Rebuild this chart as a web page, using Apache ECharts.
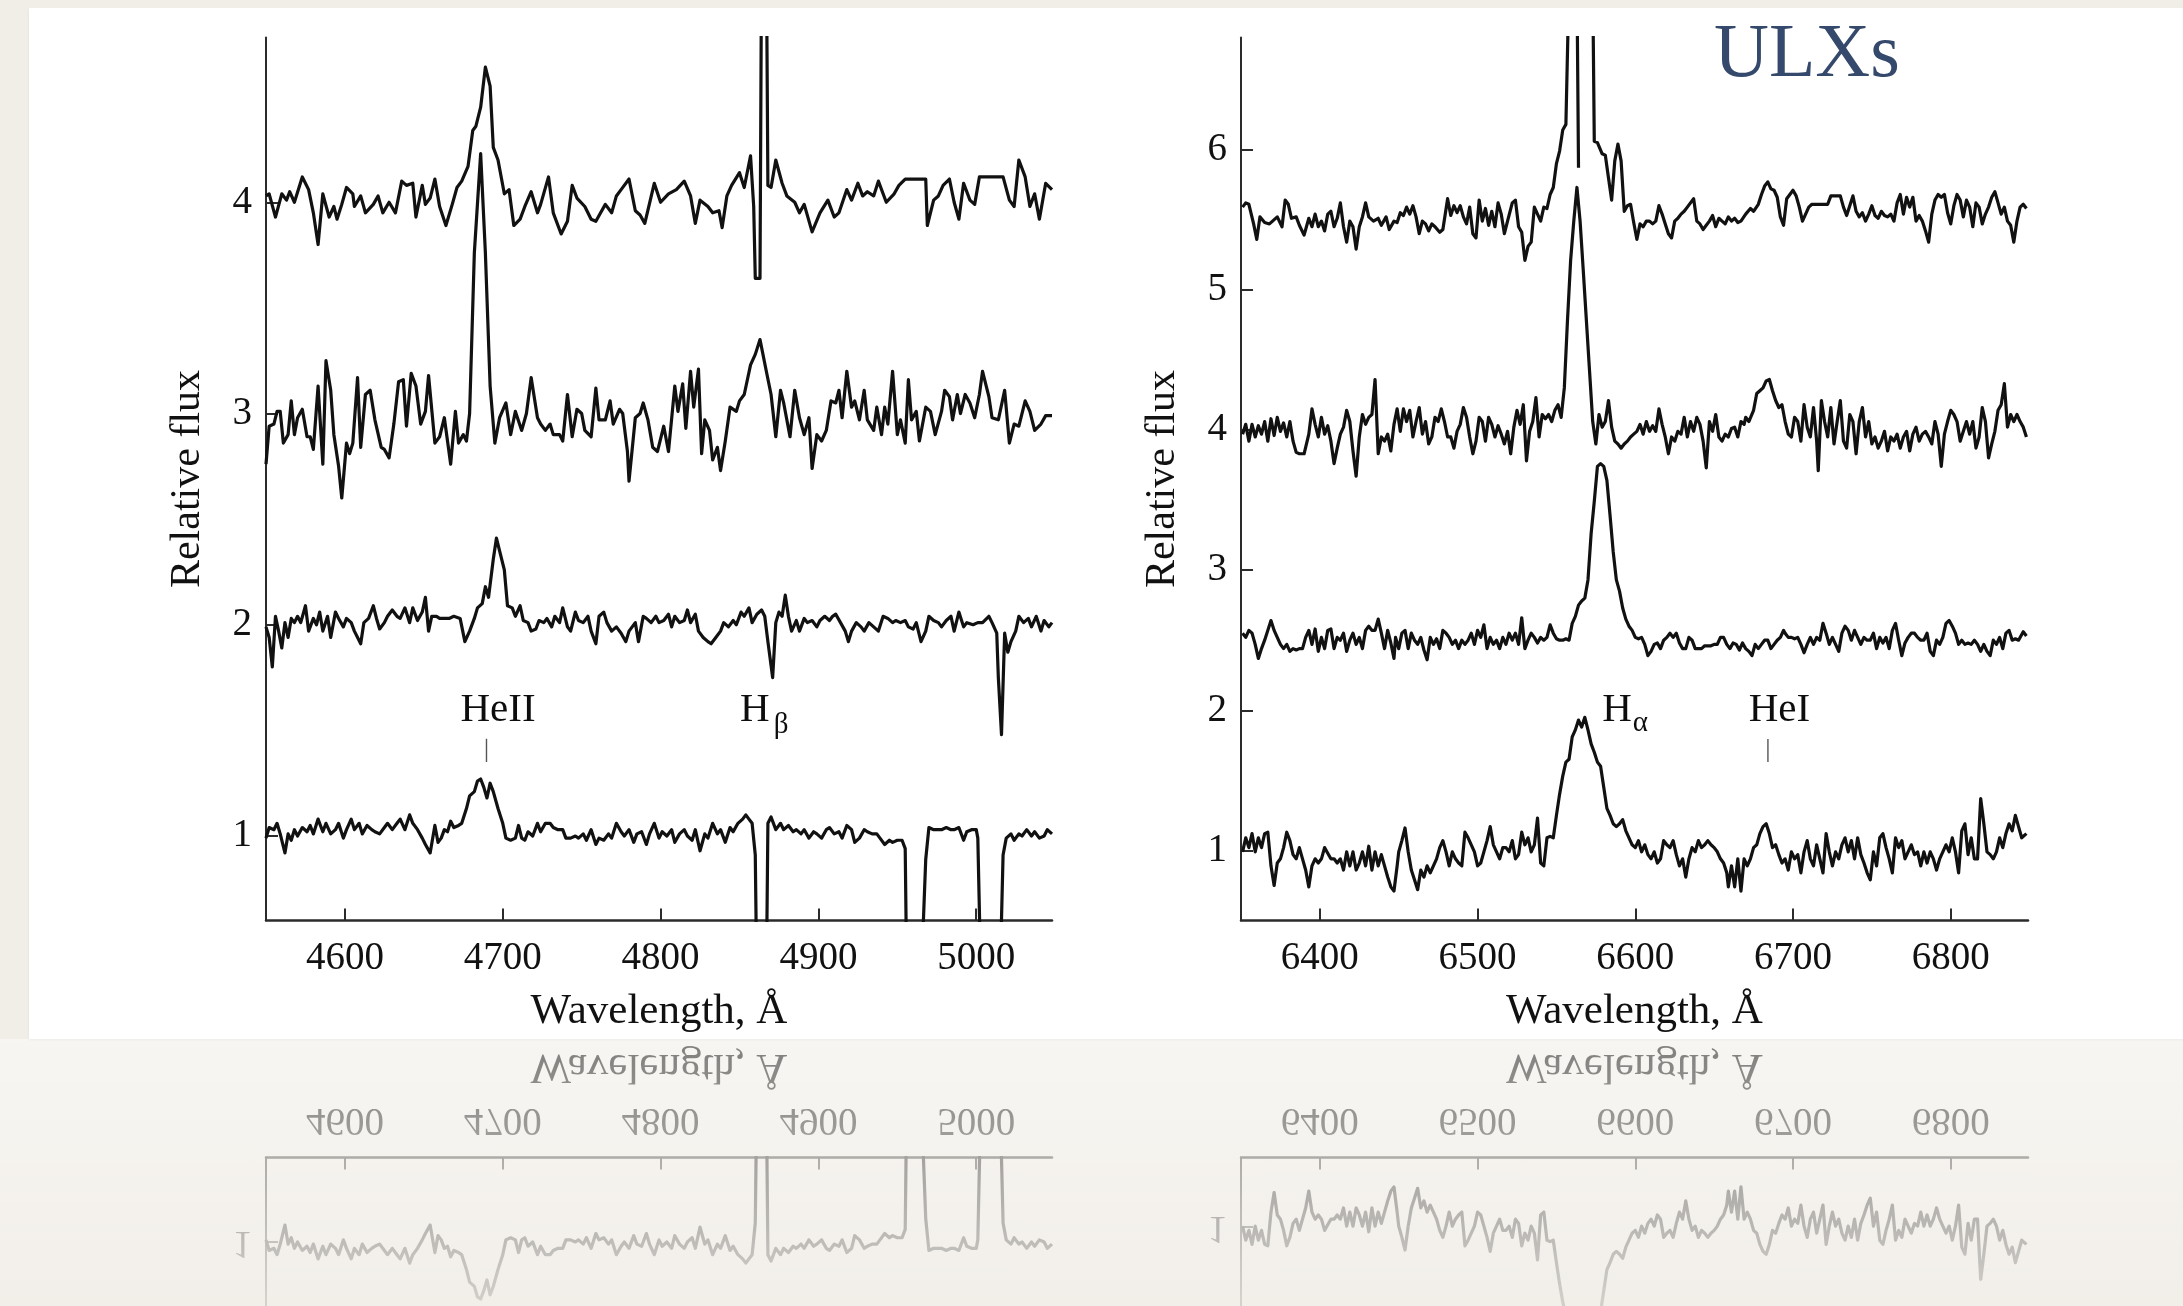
<!DOCTYPE html>
<html>
<head>
<meta charset="utf-8">
<script src="https://cdn.jsdelivr.net/npm/echarts@6/dist/echarts.min.js"></script>
<style>
html,body{margin:0;padding:0;width:2183px;height:1306px;overflow:hidden;background:#F1EEE8;}
#panel{position:absolute;left:29px;top:8px;width:2154px;height:1031px;background:#ffffff;box-shadow:0 1px 2px rgba(0,0,0,0.08);}
#reflBg{position:absolute;left:0;top:1039px;width:2183px;height:267px;background:linear-gradient(to bottom,rgba(255,255,255,0.45),rgba(255,255,255,0.05));}
#reflWrap{position:absolute;left:0;top:1039px;width:2183px;height:267px;overflow:hidden;
 -webkit-mask-image:linear-gradient(to bottom,rgba(0,0,0,0.52),rgba(0,0,0,0.14));
 mask-image:linear-gradient(to bottom,rgba(0,0,0,0.52),rgba(0,0,0,0.14));}
#refl{position:absolute;left:0;top:-1039px;width:2183px;height:1306px;transform:scaleY(-1);transform-origin:0 1039px;}
#main{position:absolute;left:0;top:0;width:2183px;height:1306px;}
</style>
</head>
<body>
<div id="panel"></div>
<div id="reflBg"></div>
<div id="reflWrap"><div id="refl"></div></div>
<div id="main"></div>
<script>
// ---------------- data ----------------
const leftXTicks = [4600, 4700, 4800, 4900, 5000];
const rightXTicks = [6400, 6500, 6600, 6700, 6800];
const leftYTicks = [1, 2, 3, 4];
const rightYTicks = [1, 2, 3, 4, 5, 6];

// left panel spectra [wavelength, relative flux]
const left1 = [[4550,0.99],[4552,1.04],[4555,1.03],[4557,1.06],[4559,1.01],[4562,0.92],[4564,1.01],[4566,0.98],[4568,1.03],[4570,1.00],[4573,1.04],[4576,1.02],[4578,1.05],[4580,1.01],[4583,1.08],[4586,1.02],[4588,1.06],[4591,1.01],[4594,1.03],[4596,1.06],[4599,0.99],[4601,1.03],[4604,1.08],[4606,1.03],[4609,1.06],[4611,1.01],[4614,1.05],[4617,1.03],[4619,1.02],[4622,1.01],[4625,1.04],[4627,1.06],[4630,1.03],[4633,1.06],[4635,1.08],[4638,1.03],[4641,1.10],[4643,1.06],[4646,1.03],[4649,0.99],[4651,0.96],[4654,0.92],[4657,1.05],[4659,0.97],[4661,0.99],[4663,1.03],[4665,1.02],[4667,1.07],[4669,1.04],[4672,1.05],[4674,1.06],[4677,1.13],[4679,1.19],[4682,1.21],[4684,1.26],[4686,1.27],[4688,1.23],[4690,1.18],[4692,1.25],[4694,1.21],[4697,1.13],[4700,1.06],[4702,0.99],[4705,0.98],[4708,0.99],[4710,1.05],[4712,0.99],[4714,0.98],[4716,1.02],[4719,1.00],[4722,1.06],[4724,1.02],[4727,1.06],[4730,1.06],[4732,1.04],[4735,1.03],[4738,1.03],[4740,0.99],[4743,0.99],[4746,1.00],[4748,0.99],[4751,1.01],[4753,0.98],[4756,1.03],[4759,0.96],[4761,0.99],[4764,0.98],[4767,1.01],[4769,0.99],[4772,1.06],[4775,1.02],[4777,1.00],[4780,1.03],[4783,0.97],[4785,1.01],[4788,1.02],[4791,0.96],[4793,1.01],[4796,1.06],[4799,0.99],[4801,1.02],[4804,1.00],[4807,1.03],[4809,0.97],[4812,1.01],[4815,1.03],[4817,1.00],[4820,0.98],[4822,1.03],[4825,0.93],[4828,1.01],[4830,0.99],[4833,1.06],[4836,1.01],[4838,1.03],[4841,0.97],[4844,1.04],[4846,1.02],[4849,1.06],[4852,1.08],[4854,1.10],[4856,1.08],[4858,1.06],[4860,0.91],[4861,0.3],[4867,0.3],[4868,1.06],[4870,1.09],[4873,1.03],[4876,1.06],[4878,1.03],[4881,1.05],[4884,1.02],[4886,1.03],[4889,1.01],[4891,1.03],[4894,0.99],[4897,1.02],[4899,1.01],[4902,0.99],[4905,1.03],[4907,1.04],[4910,1.01],[4913,1.02],[4915,0.99],[4918,1.05],[4921,1.03],[4923,0.97],[4926,0.99],[4929,1.03],[4931,1.02],[4934,1.01],[4937,1.01],[4939,0.99],[4942,0.96],[4945,0.98],[4947,0.97],[4950,0.98],[4953,0.98],[4955,0.94],[4956,0.3],[4965,0.3],[4968,0.89],[4970,1.04],[4973,1.03],[4976,1.03],[4978,1.03],[4981,1.04],[4984,1.03],[4986,1.03],[4989,1.04],[4992,0.98],[4994,1.02],[4997,1.03],[5000,1.03],[5001,0.99],[5003,0.3],[5015,0.3],[5017,0.91],[5019,0.99],[5022,1.01],[5024,0.98],[5027,1.01],[5029,1.00],[5032,1.03],[5035,1.00],[5037,1.02],[5040,0.99],[5043,1.00],[5045,1.03],[5048,1.01]];
const left2 = [[4550,1.99],[4552,1.94],[4554,1.80],[4556,2.04],[4558,1.97],[4560,1.89],[4562,2.01],[4564,1.94],[4566,2.03],[4568,2.01],[4570,2.04],[4572,2.01],[4575,2.09],[4577,1.97],[4580,2.03],[4582,2.00],[4584,2.06],[4586,1.97],[4589,2.04],[4591,1.94],[4594,2.06],[4596,2.03],[4599,1.99],[4601,2.03],[4604,2.01],[4606,1.97],[4610,1.91],[4612,2.01],[4615,2.03],[4618,2.09],[4620,2.03],[4622,1.98],[4625,2.01],[4627,2.04],[4630,2.07],[4633,2.04],[4635,2.03],[4638,2.08],[4641,2.01],[4643,2.08],[4646,2.02],[4649,2.06],[4651,2.13],[4653,1.97],[4655,2.04],[4658,2.04],[4660,2.03],[4663,2.03],[4666,2.03],[4669,2.04],[4673,2.03],[4676,1.92],[4679,1.97],[4682,2.03],[4684,2.08],[4687,2.10],[4689,2.18],[4691,2.13],[4692,2.19],[4694,2.31],[4696,2.41],[4698,2.35],[4701,2.26],[4703,2.09],[4706,2.08],[4708,2.04],[4711,2.09],[4713,2.02],[4716,2.01],[4718,1.97],[4721,1.98],[4723,2.02],[4726,2.01],[4728,2.03],[4731,1.99],[4733,2.04],[4736,2.01],[4738,2.08],[4741,1.99],[4743,1.97],[4746,2.06],[4748,2.02],[4751,2.01],[4754,2.04],[4756,1.97],[4759,1.91],[4761,2.04],[4764,2.06],[4766,2.01],[4769,1.97],[4772,1.99],[4775,1.96],[4778,1.92],[4780,1.97],[4784,2.01],[4786,1.92],[4789,2.04],[4791,2.03],[4794,2.01],[4797,2.04],[4799,2.01],[4802,2.02],[4805,2.05],[4807,1.99],[4809,2.04],[4812,2.01],[4815,2.02],[4817,2.07],[4819,2.01],[4822,2.05],[4824,1.97],[4827,1.94],[4830,1.92],[4832,1.91],[4835,1.94],[4838,1.97],[4840,2.01],[4843,1.99],[4846,2.02],[4848,2.00],[4851,2.06],[4853,2.04],[4856,2.08],[4858,2.01],[4861,2.05],[4864,2.07],[4866,2.04],[4868,1.92],[4871,1.75],[4873,2.01],[4875,2.06],[4877,2.04],[4879,2.14],[4881,2.04],[4883,1.97],[4886,2.02],[4888,1.97],[4891,2.03],[4893,2.01],[4896,2.02],[4899,1.99],[4901,2.02],[4904,2.04],[4907,2.02],[4909,2.04],[4911,2.05],[4914,2.01],[4917,1.97],[4919,1.92],[4921,1.97],[4924,2.01],[4927,1.99],[4929,1.97],[4932,2.01],[4935,1.99],[4938,1.97],[4941,2.04],[4944,2.03],[4947,2.01],[4949,2.02],[4952,2.01],[4955,2.02],[4957,1.99],[4960,1.98],[4962,2.01],[4965,1.92],[4968,1.97],[4970,2.04],[4973,2.02],[4976,2.01],[4978,1.99],[4981,2.02],[4984,2.04],[4986,1.97],[4989,2.06],[4992,1.99],[4994,2.01],[4998,2.00],[5001,2.01],[5004,2.01],[5008,2.04],[5010,2.01],[5013,1.96],[5014,1.75],[5016,1.48],[5018,1.96],[5020,1.87],[5022,1.92],[5025,1.97],[5027,2.04],[5030,2.01],[5033,2.03],[5035,1.99],[5038,2.04],[5041,1.97],[5043,2.02],[5046,1.99],[5048,2.01]];
const left3 = [[4550,2.76],[4552,2.94],[4555,2.95],[4557,3.01],[4559,3.01],[4561,2.86],[4564,2.90],[4566,3.06],[4568,2.90],[4570,2.98],[4573,3.02],[4576,2.89],[4578,2.89],[4580,2.83],[4583,3.13],[4586,2.76],[4588,3.25],[4591,3.11],[4593,2.90],[4596,2.75],[4598,2.60],[4601,2.86],[4603,2.81],[4605,2.86],[4608,3.17],[4610,2.84],[4613,3.09],[4616,3.11],[4619,2.97],[4623,2.84],[4625,2.83],[4628,2.79],[4631,2.95],[4634,3.15],[4637,3.16],[4639,2.94],[4642,3.19],[4645,3.13],[4648,2.95],[4651,3.01],[4653,3.18],[4657,2.86],[4660,2.89],[4663,2.98],[4667,2.76],[4670,3.01],[4672,2.86],[4675,2.90],[4677,2.87],[4679,3.00],[4682,3.76],[4686,4.23],[4689,3.76],[4692,3.13],[4695,2.86],[4698,2.98],[4702,3.05],[4705,2.90],[4708,3.01],[4712,2.92],[4715,3.00],[4718,3.17],[4722,2.98],[4724,2.95],[4727,2.92],[4730,2.95],[4732,2.90],[4736,2.90],[4738,2.87],[4741,3.09],[4744,2.89],[4747,3.02],[4750,3.00],[4752,2.92],[4756,2.89],[4759,3.12],[4761,2.97],[4765,2.97],[4768,3.06],[4770,2.95],[4774,3.02],[4776,3.00],[4779,2.82],[4780,2.68],[4784,2.98],[4787,3.00],[4789,3.05],[4792,2.97],[4795,2.84],[4798,2.82],[4802,2.94],[4805,2.82],[4809,3.13],[4811,3.01],[4814,3.14],[4816,2.93],[4819,3.20],[4821,3.03],[4824,3.21],[4826,2.81],[4828,2.97],[4831,2.92],[4833,2.78],[4836,2.84],[4838,2.73],[4841,2.87],[4844,3.03],[4848,3.01],[4850,3.06],[4853,3.09],[4857,3.23],[4860,3.28],[4863,3.35],[4867,3.20],[4870,3.09],[4873,2.89],[4876,3.11],[4878,3.05],[4882,2.89],[4885,3.11],[4888,2.98],[4891,2.90],[4894,2.98],[4896,2.74],[4899,2.90],[4902,2.87],[4905,2.92],[4908,3.06],[4911,3.05],[4913,3.11],[4915,2.98],[4918,3.20],[4921,3.03],[4923,3.06],[4926,2.97],[4929,3.11],[4931,2.97],[4935,2.92],[4937,3.03],[4940,2.90],[4942,3.03],[4944,2.95],[4947,3.20],[4950,2.90],[4952,2.97],[4955,2.86],[4957,3.16],[4959,2.97],[4962,3.01],[4964,2.87],[4968,3.03],[4971,3.01],[4974,2.90],[4978,3.01],[4980,3.11],[4983,3.08],[4985,2.97],[4988,3.09],[4990,3.00],[4993,3.09],[4996,3.05],[4999,2.98],[5002,3.09],[5004,3.20],[5008,3.08],[5010,2.98],[5014,2.97],[5018,3.11],[5021,2.86],[5024,2.95],[5027,2.94],[5031,3.06],[5034,3.01],[5037,2.92],[5041,2.95],[5044,2.99],[5048,2.99]];
const left4 = [[4550,4.03],[4552,4.04],[4556,3.93],[4560,4.04],[4563,4.01],[4565,4.05],[4568,4.00],[4573,4.12],[4577,4.06],[4580,3.95],[4583,3.80],[4586,4.04],[4590,3.93],[4593,3.98],[4595,3.92],[4598,3.99],[4601,4.07],[4605,4.04],[4606,3.98],[4610,4.03],[4613,3.95],[4618,3.99],[4621,4.03],[4624,3.95],[4628,4.00],[4632,3.95],[4636,4.10],[4639,4.08],[4643,4.09],[4645,3.93],[4649,4.08],[4651,3.99],[4654,4.02],[4657,4.11],[4660,3.98],[4664,3.89],[4668,3.99],[4671,4.07],[4674,4.10],[4678,4.17],[4681,4.34],[4683,4.36],[4686,4.45],[4689,4.64],[4692,4.55],[4694,4.26],[4697,4.20],[4701,4.04],[4704,4.06],[4707,3.89],[4711,3.92],[4714,3.98],[4718,4.05],[4722,3.95],[4724,3.99],[4729,4.12],[4732,3.95],[4737,3.85],[4741,3.91],[4744,4.08],[4747,4.02],[4752,3.98],[4756,3.92],[4759,3.91],[4762,3.95],[4765,3.99],[4769,3.95],[4772,4.03],[4775,4.06],[4780,4.11],[4784,3.96],[4787,3.94],[4790,3.90],[4796,4.09],[4800,4.00],[4805,4.04],[4810,4.06],[4815,4.10],[4819,4.03],[4822,3.90],[4825,4.01],[4830,3.98],[4833,3.95],[4837,3.96],[4839,3.88],[4842,4.03],[4845,4.08],[4850,4.14],[4853,4.07],[4857,4.22],[4859,3.98],[4860,3.64],[4863,3.64],[4864,5.2],[4867,5.2],[4868,4.08],[4870,4.07],[4873,4.20],[4877,4.09],[4880,4.03],[4885,4.00],[4888,3.95],[4891,3.99],[4896,3.86],[4901,3.95],[4906,4.01],[4910,3.93],[4913,3.95],[4918,4.06],[4921,4.01],[4925,4.09],[4928,4.03],[4931,4.05],[4935,4.03],[4938,4.10],[4943,4.00],[4948,4.04],[4951,4.08],[4955,4.11],[4968,4.11],[4969,3.89],[4973,4.01],[4976,4.03],[4979,4.08],[4983,4.11],[4986,4.00],[4989,3.92],[4992,4.09],[4996,4.01],[4999,3.99],[5002,4.12],[5017,4.12],[5021,4.01],[5024,3.98],[5027,4.20],[5031,4.12],[5034,3.98],[5037,4.04],[5040,3.92],[5044,4.09],[5048,4.06]];

// right panel spectra [wavelength, relative flux]
const right1 = [[6351,0.99],[6353,1.09],[6355,1.02],[6357,1.12],[6359,0.99],[6361,1.09],[6363,1.02],[6365,1.12],[6367,1.13],[6369,0.89],[6371,0.75],[6373,0.91],[6375,0.94],[6377,1.02],[6379,1.13],[6381,1.07],[6383,0.97],[6385,0.94],[6387,1.02],[6389,0.94],[6391,0.86],[6393,0.74],[6395,0.89],[6397,0.94],[6399,0.91],[6401,0.94],[6403,1.02],[6405,0.98],[6407,0.94],[6409,0.94],[6411,0.91],[6413,0.94],[6415,0.86],[6417,0.99],[6419,0.89],[6421,0.99],[6423,0.86],[6425,0.91],[6427,0.99],[6429,0.89],[6431,1.03],[6433,0.86],[6435,0.99],[6437,0.89],[6439,0.97],[6441,0.89],[6443,0.81],[6445,0.74],[6447,0.71],[6449,0.89],[6450,0.99],[6452,1.07],[6454,1.16],[6456,0.99],[6458,0.86],[6460,0.79],[6462,0.72],[6464,0.86],[6466,0.81],[6468,0.89],[6470,0.84],[6472,0.89],[6474,0.94],[6476,1.02],[6478,1.07],[6480,0.99],[6482,0.89],[6484,0.99],[6486,0.94],[6488,0.91],[6490,0.89],[6492,1.13],[6494,1.09],[6496,1.04],[6498,0.99],[6500,0.89],[6502,0.91],[6504,0.99],[6506,1.07],[6508,1.17],[6510,1.04],[6512,0.99],[6514,0.94],[6516,1.02],[6518,1.02],[6520,0.99],[6522,1.07],[6524,0.94],[6526,0.97],[6528,1.13],[6530,1.04],[6532,1.09],[6534,0.99],[6536,1.04],[6538,1.23],[6540,0.91],[6542,0.89],[6544,1.09],[6546,1.10],[6548,1.09],[6550,1.25],[6552,1.40],[6554,1.53],[6556,1.63],[6558,1.65],[6560,1.81],[6562,1.86],[6564,1.93],[6566,1.88],[6568,1.95],[6570,1.86],[6572,1.76],[6574,1.70],[6576,1.63],[6578,1.60],[6580,1.45],[6582,1.30],[6584,1.25],[6586,1.19],[6588,1.17],[6590,1.19],[6592,1.22],[6594,1.14],[6596,1.09],[6598,1.04],[6600,1.02],[6602,1.07],[6604,0.99],[6606,1.04],[6608,0.97],[6610,0.94],[6612,0.99],[6614,0.91],[6616,0.94],[6618,1.07],[6620,1.04],[6622,1.02],[6624,1.07],[6626,0.97],[6628,0.89],[6630,0.94],[6632,0.81],[6634,0.94],[6636,1.02],[6638,0.99],[6640,1.07],[6642,1.02],[6644,1.04],[6646,1.07],[6648,1.04],[6650,1.02],[6652,0.99],[6654,0.94],[6656,0.91],[6658,0.84],[6659,0.74],[6661,0.89],[6663,0.74],[6665,0.94],[6667,0.71],[6669,0.94],[6671,0.89],[6673,0.94],[6675,1.02],[6677,1.04],[6679,1.12],[6681,1.17],[6683,1.19],[6685,1.12],[6687,1.02],[6689,1.04],[6691,0.97],[6693,0.91],[6695,0.94],[6697,0.86],[6699,0.99],[6701,0.94],[6703,0.97],[6705,0.84],[6707,0.99],[6709,1.07],[6711,0.94],[6713,0.89],[6715,1.04],[6717,0.94],[6719,0.84],[6721,1.12],[6723,0.99],[6725,0.89],[6727,0.99],[6729,0.94],[6731,1.04],[6733,1.09],[6735,0.99],[6737,1.07],[6739,0.94],[6741,1.09],[6743,0.97],[6745,0.91],[6747,0.84],[6749,0.79],[6751,0.99],[6753,0.89],[6755,1.09],[6757,1.12],[6759,1.02],[6761,0.94],[6763,0.84],[6765,1.09],[6767,1.02],[6769,1.07],[6771,0.94],[6773,0.99],[6775,1.04],[6777,0.97],[6779,0.99],[6781,0.89],[6783,0.99],[6785,0.91],[6787,0.99],[6789,0.94],[6791,0.86],[6793,0.94],[6795,0.99],[6797,1.04],[6799,0.99],[6801,1.09],[6803,0.99],[6805,0.84],[6807,1.14],[6809,1.19],[6811,0.97],[6813,1.09],[6815,0.94],[6817,0.94],[6819,1.37],[6821,1.19],[6823,0.99],[6825,0.97],[6827,0.94],[6829,0.99],[6831,1.09],[6833,1.02],[6835,1.12],[6837,1.19],[6839,1.14],[6841,1.25],[6843,1.17],[6845,1.09],[6848,1.12]];
const right2 = [[6351,2.55],[6353,2.52],[6355,2.57],[6357,2.55],[6359,2.47],[6361,2.37],[6363,2.44],[6365,2.50],[6367,2.57],[6369,2.64],[6371,2.57],[6373,2.52],[6375,2.47],[6377,2.44],[6379,2.47],[6381,2.42],[6383,2.44],[6385,2.43],[6387,2.44],[6389,2.44],[6391,2.52],[6393,2.57],[6395,2.47],[6397,2.58],[6399,2.42],[6401,2.52],[6403,2.44],[6405,2.57],[6407,2.58],[6409,2.44],[6411,2.52],[6413,2.50],[6415,2.55],[6417,2.42],[6419,2.50],[6421,2.55],[6423,2.47],[6425,2.52],[6427,2.44],[6429,2.57],[6431,2.60],[6433,2.57],[6435,2.57],[6437,2.65],[6439,2.55],[6441,2.44],[6443,2.57],[6445,2.48],[6447,2.37],[6448,2.52],[6450,2.44],[6452,2.55],[6454,2.57],[6456,2.44],[6458,2.55],[6460,2.50],[6462,2.47],[6464,2.52],[6466,2.43],[6468,2.36],[6470,2.52],[6472,2.47],[6474,2.51],[6476,2.44],[6478,2.57],[6480,2.55],[6482,2.52],[6484,2.47],[6486,2.50],[6488,2.44],[6490,2.50],[6492,2.47],[6494,2.50],[6496,2.55],[6498,2.47],[6500,2.57],[6502,2.52],[6504,2.61],[6506,2.44],[6508,2.52],[6510,2.47],[6512,2.50],[6514,2.44],[6516,2.52],[6518,2.47],[6520,2.55],[6522,2.50],[6524,2.55],[6526,2.47],[6528,2.66],[6530,2.44],[6532,2.50],[6534,2.55],[6536,2.52],[6538,2.48],[6540,2.52],[6542,2.50],[6544,2.52],[6546,2.61],[6548,2.55],[6550,2.51],[6552,2.50],[6554,2.50],[6556,2.51],[6558,2.50],[6560,2.62],[6562,2.67],[6564,2.75],[6566,2.78],[6568,2.80],[6570,2.93],[6572,3.26],[6574,3.49],[6576,3.74],[6578,3.76],[6580,3.74],[6582,3.64],[6584,3.39],[6586,3.13],[6588,2.93],[6590,2.85],[6592,2.73],[6594,2.65],[6596,2.60],[6598,2.57],[6600,2.52],[6602,2.51],[6604,2.52],[6606,2.47],[6608,2.39],[6610,2.42],[6612,2.47],[6614,2.48],[6616,2.44],[6618,2.50],[6620,2.52],[6622,2.55],[6624,2.52],[6626,2.55],[6628,2.48],[6630,2.44],[6632,2.44],[6634,2.52],[6636,2.50],[6638,2.44],[6640,2.44],[6642,2.44],[6644,2.46],[6646,2.46],[6648,2.46],[6650,2.47],[6652,2.47],[6654,2.52],[6656,2.52],[6658,2.47],[6660,2.44],[6662,2.48],[6664,2.47],[6666,2.43],[6668,2.48],[6670,2.44],[6672,2.42],[6674,2.39],[6676,2.47],[6678,2.44],[6680,2.47],[6682,2.50],[6684,2.50],[6686,2.44],[6688,2.47],[6690,2.50],[6692,2.52],[6694,2.57],[6695,2.55],[6697,2.52],[6699,2.52],[6701,2.51],[6703,2.52],[6705,2.47],[6707,2.41],[6709,2.47],[6711,2.52],[6713,2.47],[6715,2.52],[6717,2.50],[6719,2.62],[6721,2.55],[6723,2.47],[6725,2.52],[6727,2.47],[6729,2.42],[6731,2.55],[6733,2.60],[6735,2.57],[6737,2.50],[6739,2.57],[6741,2.52],[6743,2.47],[6745,2.52],[6747,2.50],[6749,2.50],[6751,2.55],[6753,2.44],[6755,2.52],[6757,2.48],[6759,2.52],[6761,2.44],[6763,2.57],[6765,2.62],[6767,2.50],[6769,2.39],[6771,2.48],[6773,2.52],[6775,2.55],[6777,2.55],[6779,2.52],[6781,2.50],[6783,2.50],[6785,2.55],[6787,2.42],[6789,2.39],[6791,2.50],[6793,2.47],[6795,2.52],[6797,2.62],[6799,2.64],[6801,2.60],[6803,2.55],[6805,2.47],[6807,2.50],[6809,2.47],[6811,2.48],[6813,2.47],[6815,2.50],[6817,2.47],[6819,2.42],[6821,2.47],[6823,2.42],[6825,2.39],[6827,2.50],[6829,2.47],[6831,2.52],[6833,2.44],[6835,2.55],[6837,2.57],[6839,2.50],[6841,2.51],[6843,2.50],[6846,2.56],[6848,2.53]];
const right3 = [[6351,3.97],[6353,4.04],[6355,3.92],[6357,4.04],[6359,3.95],[6361,4.03],[6363,3.97],[6365,4.06],[6367,3.92],[6369,4.08],[6371,3.96],[6373,4.09],[6375,3.99],[6377,4.05],[6379,3.95],[6381,4.06],[6383,3.92],[6385,3.84],[6387,3.83],[6390,3.83],[6393,3.97],[6395,4.15],[6397,4.04],[6399,3.95],[6401,4.09],[6403,3.97],[6405,4.03],[6407,3.92],[6409,3.76],[6411,3.87],[6413,3.97],[6415,4.02],[6417,4.14],[6419,4.06],[6421,3.85],[6423,3.67],[6425,3.95],[6427,4.11],[6429,4.04],[6431,4.09],[6433,4.11],[6435,4.36],[6437,3.83],[6439,3.95],[6441,3.92],[6443,3.97],[6445,3.85],[6447,4.04],[6449,4.15],[6451,3.99],[6453,4.15],[6455,4.06],[6457,4.14],[6459,3.95],[6461,4.06],[6463,4.16],[6465,3.97],[6467,4.06],[6469,3.90],[6471,3.95],[6473,4.09],[6475,4.06],[6477,4.15],[6479,4.06],[6481,3.95],[6483,3.95],[6485,3.87],[6487,3.99],[6489,4.04],[6491,4.16],[6493,4.09],[6495,3.95],[6497,3.83],[6499,3.92],[6501,4.09],[6503,4.06],[6505,3.92],[6507,4.09],[6509,4.04],[6511,3.95],[6513,4.03],[6515,3.97],[6517,3.90],[6519,3.99],[6521,3.83],[6523,4.02],[6525,4.14],[6527,4.04],[6529,4.18],[6531,3.78],[6533,3.99],[6535,4.06],[6537,4.23],[6539,3.95],[6541,4.11],[6543,4.08],[6545,4.11],[6547,4.06],[6549,4.14],[6551,4.18],[6553,4.09],[6555,4.30],[6557,4.78],[6559,5.21],[6561,5.49],[6563,5.73],[6565,5.49],[6567,5.14],[6569,4.78],[6571,4.42],[6573,4.06],[6575,3.90],[6577,4.11],[6579,4.02],[6581,4.06],[6583,4.21],[6585,4.02],[6587,3.92],[6589,3.90],[6591,3.87],[6593,3.90],[6595,3.92],[6597,3.95],[6599,3.97],[6601,3.99],[6603,4.04],[6605,3.97],[6607,4.06],[6609,3.99],[6611,4.03],[6613,3.99],[6615,4.15],[6617,4.04],[6619,3.95],[6621,3.83],[6623,3.95],[6625,3.92],[6627,3.99],[6629,3.97],[6631,4.09],[6633,3.95],[6635,4.06],[6637,3.99],[6639,4.09],[6641,4.04],[6643,3.92],[6645,3.73],[6647,4.06],[6649,3.99],[6651,4.11],[6653,3.95],[6655,3.92],[6657,3.97],[6659,3.95],[6661,4.01],[6663,4.02],[6665,3.95],[6667,4.06],[6669,4.04],[6670,4.09],[6672,4.06],[6675,4.14],[6677,4.26],[6679,4.28],[6681,4.30],[6683,4.35],[6685,4.36],[6687,4.28],[6689,4.21],[6691,4.16],[6693,4.18],[6695,4.06],[6697,3.97],[6699,3.95],[6701,4.09],[6703,4.06],[6705,3.92],[6707,4.18],[6709,4.02],[6711,3.95],[6713,4.16],[6715,3.92],[6716,3.71],[6718,4.21],[6720,4.06],[6722,3.95],[6724,4.16],[6726,3.90],[6728,4.06],[6730,4.21],[6732,3.92],[6734,3.87],[6736,4.11],[6738,4.06],[6740,3.83],[6742,4.06],[6744,4.16],[6746,3.95],[6748,4.06],[6750,3.90],[6752,3.95],[6754,3.87],[6756,3.92],[6758,3.99],[6760,3.85],[6762,3.95],[6764,3.92],[6766,3.97],[6768,3.87],[6770,3.95],[6772,3.99],[6774,3.85],[6776,3.97],[6778,4.02],[6780,3.92],[6782,3.97],[6784,3.99],[6786,3.95],[6788,3.90],[6790,4.06],[6792,3.97],[6794,3.74],[6796,3.97],[6798,4.06],[6800,4.14],[6802,4.11],[6804,4.06],[6806,3.92],[6808,3.99],[6810,4.06],[6812,3.97],[6814,4.06],[6816,3.87],[6818,3.95],[6820,4.16],[6822,4.06],[6824,3.80],[6826,3.90],[6828,3.99],[6830,4.14],[6832,4.18],[6834,4.33],[6836,4.02],[6838,4.11],[6840,4.06],[6842,4.11],[6844,4.06],[6846,4.02],[6848,3.95]];
const right4 = [[6351,5.59],[6353,5.62],[6355,5.61],[6358,5.47],[6360,5.36],[6362,5.52],[6365,5.48],[6368,5.47],[6370,5.49],[6373,5.52],[6376,5.45],[6378,5.64],[6380,5.61],[6382,5.51],[6385,5.52],[6387,5.46],[6390,5.39],[6393,5.51],[6395,5.45],[6397,5.54],[6399,5.45],[6401,5.49],[6403,5.42],[6405,5.54],[6407,5.56],[6409,5.45],[6411,5.51],[6413,5.62],[6415,5.45],[6417,5.34],[6419,5.49],[6421,5.45],[6423,5.29],[6425,5.45],[6427,5.52],[6429,5.62],[6431,5.52],[6434,5.49],[6437,5.51],[6439,5.46],[6442,5.52],[6444,5.43],[6447,5.49],[6449,5.48],[6451,5.55],[6453,5.53],[6455,5.59],[6457,5.54],[6459,5.60],[6461,5.52],[6463,5.40],[6465,5.49],[6467,5.47],[6469,5.42],[6471,5.47],[6473,5.45],[6476,5.41],[6478,5.43],[6481,5.65],[6483,5.53],[6485,5.60],[6487,5.55],[6489,5.60],[6491,5.52],[6493,5.47],[6495,5.59],[6497,5.40],[6499,5.37],[6501,5.64],[6503,5.49],[6505,5.58],[6507,5.46],[6509,5.56],[6511,5.45],[6513,5.62],[6515,5.54],[6517,5.40],[6519,5.49],[6522,5.62],[6524,5.64],[6526,5.45],[6528,5.41],[6530,5.21],[6532,5.31],[6534,5.34],[6536,5.59],[6538,5.54],[6540,5.49],[6542,5.59],[6544,5.58],[6546,5.68],[6548,5.73],[6550,5.90],[6552,5.99],[6554,6.14],[6556,6.18],[6558,7.2],[6563,7.2],[6564,5.87],[6568,'-'],[6573,7.2],[6574,6.06],[6576,6.05],[6579,5.97],[6581,5.96],[6583,5.80],[6585,5.64],[6587,5.92],[6589,6.04],[6591,5.92],[6593,5.56],[6595,5.60],[6597,5.61],[6599,5.48],[6601,5.36],[6603,5.47],[6605,5.45],[6607,5.49],[6609,5.49],[6611,5.47],[6613,5.49],[6615,5.60],[6617,5.54],[6619,5.47],[6621,5.40],[6623,5.37],[6625,5.49],[6627,5.51],[6629,5.54],[6631,5.56],[6633,5.59],[6635,5.62],[6637,5.65],[6639,5.49],[6641,5.47],[6643,5.43],[6645,5.46],[6647,5.49],[6649,5.53],[6651,5.45],[6653,5.51],[6655,5.49],[6657,5.47],[6659,5.52],[6661,5.49],[6663,5.51],[6665,5.48],[6667,5.49],[6670,5.54],[6673,5.58],[6675,5.56],[6678,5.61],[6680,5.68],[6682,5.74],[6684,5.77],[6686,5.72],[6688,5.71],[6690,5.66],[6692,5.52],[6694,5.46],[6696,5.65],[6698,5.68],[6700,5.71],[6702,5.67],[6704,5.59],[6706,5.49],[6708,5.54],[6710,5.59],[6712,5.61],[6715,5.61],[6722,5.61],[6724,5.67],[6727,5.67],[6730,5.67],[6732,5.59],[6734,5.53],[6736,5.60],[6738,5.67],[6740,5.56],[6742,5.52],[6744,5.55],[6746,5.49],[6748,5.54],[6750,5.60],[6752,5.53],[6754,5.51],[6756,5.56],[6758,5.53],[6760,5.52],[6762,5.54],[6764,5.49],[6766,5.62],[6768,5.68],[6770,5.54],[6772,5.66],[6774,5.59],[6776,5.66],[6778,5.49],[6780,5.53],[6782,5.49],[6784,5.42],[6786,5.34],[6788,5.54],[6790,5.64],[6792,5.68],[6794,5.66],[6796,5.68],[6798,5.55],[6800,5.47],[6802,5.60],[6804,5.68],[6806,5.64],[6808,5.52],[6810,5.64],[6812,5.59],[6814,5.45],[6816,5.62],[6818,5.59],[6820,5.47],[6822,5.54],[6824,5.59],[6826,5.66],[6828,5.70],[6830,5.62],[6832,5.54],[6834,5.59],[6836,5.49],[6838,5.46],[6840,5.34],[6842,5.49],[6844,5.59],[6846,5.61],[6848,5.58]];

// line identifications: [text, wavelength, flux]
const leftLineIds = [['HeII', 4697, 1.594], ['H', 4859.7, 1.594], ['β', 4876.3, 1.523]];
const rightLineIds = [['H', 6588.5, 2.0], ['α', 6603.2, 1.903], ['HeI', 6691.4, 2.0]];
// small marker ticks under the identifications
const leftMarker = [[4689.7, 1.35], [4689.7, 1.46]];
const rightMarker = [[6684.1, 1.63], [6684.1, 1.795]];

// ---------------- chart ----------------
const FONT = "'Liberation Serif','Times New Roman',serif";
const INK = '#111111';
const AXIS = '#2b2b2b';
const plainNumber = function (v) { return String(v); };

function mkX(i, min, max, ticks) {
  return {
    type: 'value', gridIndex: i, min: min, max: max,
    name: 'Wavelength, Å', nameLocation: 'middle', nameGap: 70,
    nameTextStyle: { fontFamily: FONT, fontSize: 43, color: '#111' },
    axisLine: { show: true, onZero: false, lineStyle: { color: AXIS, width: 2.5 } },
    axisTick: { show: true, inside: true, length: 12, customValues: ticks, lineStyle: { color: AXIS, width: 2 } },
    axisLabel: { show: true, margin: 19, customValues: ticks, formatter: plainNumber, fontFamily: FONT, fontSize: 39, color: '#111' },
    splitLine: { show: false }
  };
}
function mkY(i, min, max, ticks) {
  return {
    type: 'value', gridIndex: i, min: min, max: max,
    name: 'Relative flux', nameLocation: 'middle', nameGap: 57,
    nameTextStyle: { fontFamily: FONT, fontSize: 42, color: '#111' },
    axisLine: { show: true, onZero: false, lineStyle: { color: AXIS, width: 2 } },
    axisTick: { show: true, inside: true, length: 12, customValues: ticks, lineStyle: { color: AXIS, width: 2 } },
    axisLabel: { show: true, margin: 14, customValues: ticks, formatter: plainNumber, fontFamily: FONT, fontSize: 39, color: '#111' },
    splitLine: { show: false }
  };
}
function spec(data, gi) {
  return {
    type: 'line', xAxisIndex: gi, yAxisIndex: gi, data: data,
    showSymbol: false, symbol: 'none', clip: true, connectNulls: false, silent: true,
    lineStyle: { color: INK, width: 3.2, join: 'round' }
  };
}
function marker(data, gi) {
  return {
    type: 'line', xAxisIndex: gi, yAxisIndex: gi, data: data,
    showSymbol: false, symbol: 'none', silent: true,
    lineStyle: { color: '#555', width: 1.4 }
  };
}
function ids(list, gi) {
  return {
    type: 'scatter', xAxisIndex: gi, yAxisIndex: gi, symbolSize: 1, silent: true,
    itemStyle: { color: 'rgba(0,0,0,0)', opacity: 1 },
    data: list.map(function (d) {
      const greek = /[α-ω]/.test(d[0]);
      return {
        value: [d[1], d[2]],
        itemStyle: { opacity: 1 },
        label: { show: true, position: 'inside', formatter: d[0], fontFamily: FONT,
                 fontSize: greek ? 29 : 41, color: '#0d0d0d', opacity: 1,
                 textBorderWidth: 0, textBorderColor: 'transparent', textShadowBlur: 0 }
      };
    })
  };
}

const option = {
  animation: false,
  title: {
    text: 'ULXs', left: 1714, top: 18, padding: 0,
    textStyle: { fontFamily: FONT, fontSize: 76, fontWeight: 'normal', color: '#34496B' }
  },
  grid: [
    { left: 266, top: 37.5, width: 786, height: 883 },
    { left: 1241, top: 37.5, width: 787, height: 883 }
  ],
  xAxis: [mkX(0, 4550, 5048, leftXTicks), mkX(1, 6350, 6849, rightXTicks)],
  yAxis: [mkY(0, 0.6, 4.78, leftYTicks), mkY(1, 0.5, 6.8, rightYTicks)],
  series: [
    spec(left1, 0), spec(left2, 0), spec(left3, 0), spec(left4, 0),
    spec(right1, 1), spec(right2, 1), spec(right3, 1), spec(right4, 1),
    marker(leftMarker, 0), marker(rightMarker, 1),
    ids(leftLineIds, 0), ids(rightLineIds, 1)
  ]
};

const main = echarts.init(document.getElementById('main'), null, { renderer: 'canvas' });
main.setOption(option);
const refl = echarts.init(document.getElementById('refl'), null, { renderer: 'canvas' });
refl.setOption(option);
</script>
</body>
</html>
